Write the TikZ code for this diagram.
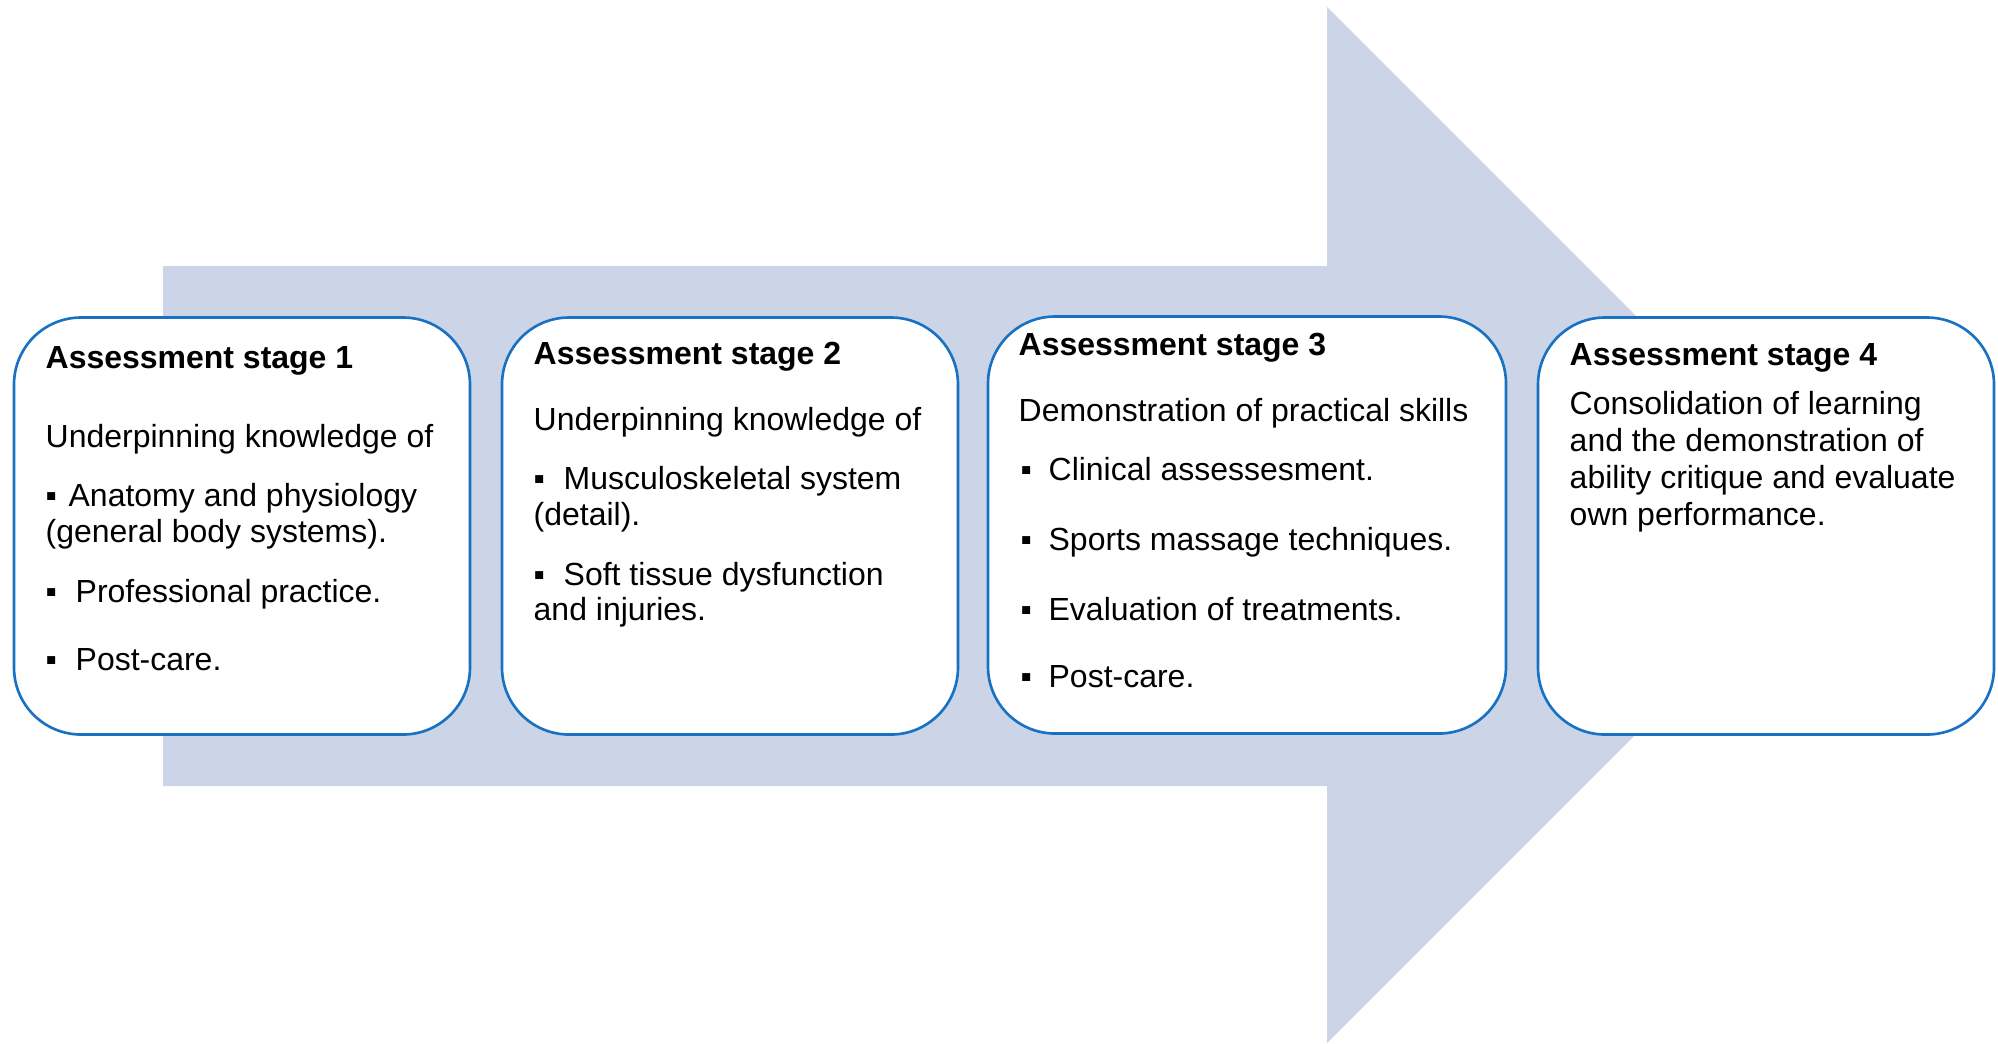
\documentclass[tikz,border=0pt]{standalone}
\usepackage{fontspec}
\setmainfont{Liberation Sans}
\usetikzlibrary{positioning}

\definecolor{arrowfill}{RGB}{204,213,232}
\definecolor{stageblue}{RGB}{25,113,194}

\begin{document}
\begin{tikzpicture}[
    x=0.1mm, y=-0.1mm,      % one unit = one pixel of the reference
    stage/.style={draw=stageblue, line width=0.75pt, fill=white,
                  rounded corners=6.7mm, inner sep=0pt, minimum height=41.7mm},
    stagetitle/.style={anchor=base west, inner sep=0pt,
                  font=\fontsize{9.1pt}{11pt}\selectfont\bfseries},
    txt/.style={anchor=base west, inner sep=0pt,
                  font=\fontsize{9.1pt}{11pt}\selectfont}]
    \useasboundingbox (0,0) rectangle (1998,1043);

    % Big arrow behind the stages
    \fill[arrowfill] (163,266) -- (1327,266) -- (1327,7) -- (1845,525)
        -- (1327,1043) -- (1327,786) -- (163,786) -- cycle;

    % Stage boxes
    \node (s1) [stage, minimum width=45.6mm] at (242,526) {};
    \node (s2) [stage, minimum width=45.6mm] at (730,526) {};
    \node (s3) [stage, minimum width=51.8mm] at (1247,525) {};
    \node (s4) [stage, minimum width=45.6mm] at (1766,526) {};

    % Stage 1
    \node (h1) [stagetitle] at (45,368) {Assessment stage 1};
    \node (a1) [txt] at (45,447) {Underpinning knowledge of};
    \node (b1) [txt] at (45,506) {\makebox[2.3mm][l]{▪}Anatomy and physiology};
    \node (c1) [txt] at (45,542) {(general body systems).};
    \node (d1) [txt] at (45,602) {\makebox[3.0mm][l]{▪}Professional practice.};
    \node (e1) [txt] at (45,670) {\makebox[3.0mm][l]{▪}Post-care.};

    % Stage 2
    \node (h2) [stagetitle] at (533,364) {Assessment stage 2};
    \node (a2) [txt] at (533,430) {Underpinning knowledge of};
    \node (b2) [txt] at (533,489) {\makebox[3.0mm][l]{▪}Musculoskeletal system};
    \node (c2) [txt] at (533,525) {(detail).};
    \node (d2) [txt] at (533,585) {\makebox[3.0mm][l]{▪}Soft tissue dysfunction};
    \node (e2) [txt] at (533,620) {and injuries.};

    % Stage 3
    \node (h3) [stagetitle] at (1018,355) {Assessment stage 3};
    \node (a3) [txt] at (1018,421) {Demonstration of practical skills};
    \node (b3) [txt] at (1020,480) {\makebox[2.8mm][l]{▪}Clinical assessesment.};
    \node (c3) [txt] at (1020,550) {\makebox[2.8mm][l]{▪}Sports massage techniques.};
    \node (d3) [txt] at (1020,620) {\makebox[2.8mm][l]{▪}Evaluation of treatments.};
    \node (e3) [txt] at (1020,687) {\makebox[2.8mm][l]{▪}Post-care.};

    % Stage 4
    \node (h4) [stagetitle] at (1569,365) {Assessment stage 4};
    \node (a4) [txt] at (1569,414) {Consolidation of learning};
    \node (b4) [txt] at (1569,451) {and the demonstration of};
    \node (c4) [txt] at (1569,488) {ability critique and evaluate};
    \node (d4) [txt] at (1569,525) {own performance.};
\end{tikzpicture}
\end{document}
